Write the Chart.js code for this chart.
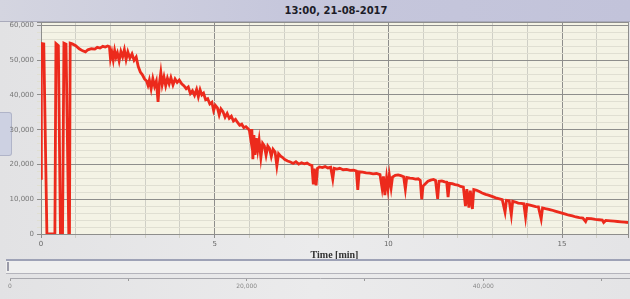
<!DOCTYPE html>
<html>
<head>
<meta charset="utf-8">
<script src="https://cdn.jsdelivr.net/npm/chart.js@4.4.1/dist/chart.umd.min.js"></script>
<style>
  html, body { margin: 0; padding: 0; }
  body { width: 630px; height: 299px; position: relative; overflow: hidden;
         background: linear-gradient(to right, #e2e2e4, #ebebec 50%, #e4e4e6); }
  #header { position: absolute; left: 0; top: 0; width: 630px; height: 21px;
            background: linear-gradient(to right, #d4d5e0, #c6c7dc 45%, #c2c3da);
            border-bottom: 1px solid #a9aabb; }
  #title { position: absolute; left: 236px; width: 200px; top: 5px; text-align: center;
           font: bold 10px "DejaVu Sans", sans-serif; color: #1c1c28; }
  #main { position: absolute; left: 0; top: 0; }
  #band { position: absolute; left: 6px; top: 259px; width: 624px; height: 12px;
          border-top: 2px solid #9ea2b6; border-bottom: 1px solid #b4b4bc; background: #efefef; }
  #handle { position: absolute; left: 7px; top: 262px; width: 2px; height: 9px; background: #9a9aa8; }
  #nav { position: absolute; left: 0; top: 266px; }
  #tab { position: absolute; left: 0; top: 112px; width: 11px; height: 42px;
         background: #cdd1e2; border-radius: 0 3px 3px 0; border: 1px solid #b0b4c8; border-left: none; }
</style>
</head>
<body>
<div id="header"><div id="title">13:00, 21-08-2017</div></div>
<div id="tab"></div>
<canvas id="main" width="630" height="264"></canvas>
<div id="band"></div>
<div id="handle"></div>
<canvas id="nav" width="630" height="33"></canvas>
<script>
// Time [min] and signal values
const timeMin = [
  0.00, 0.01, 0.08, 0.17, 0.40, 0.43, 0.50, 0.56, 0.62, 0.66,
  0.72, 0.80, 0.82, 0.84, 0.90, 1.00, 1.10, 1.20, 1.28, 1.35,
  1.45, 1.55, 1.62, 1.70, 1.78, 1.85, 1.92, 1.97, 2.00, 2.04,
  2.08, 2.12, 2.16, 2.20, 2.25, 2.30, 2.35, 2.40, 2.45, 2.50,
  2.56, 2.62, 2.68, 2.74, 2.80, 2.86, 2.92, 2.98, 3.04, 3.08,
  3.12, 3.17, 3.22, 3.27, 3.32, 3.37, 3.41, 3.45, 3.49, 3.54,
  3.59, 3.64, 3.69, 3.74, 3.80, 3.86, 3.92, 3.98, 4.05, 4.12,
  4.18, 4.24, 4.30, 4.36, 4.42, 4.48, 4.53, 4.58, 4.63, 4.68,
  4.74, 4.80, 4.86, 4.92, 4.97, 5.02, 5.08, 5.13, 5.18, 5.24,
  5.30, 5.36, 5.42, 5.48, 5.54, 5.60, 5.66, 5.72, 5.78, 5.84,
  5.90, 5.96, 6.00, 6.04, 6.07, 6.10, 6.13, 6.16, 6.20, 6.24,
  6.28, 6.33, 6.38, 6.43, 6.48, 6.53, 6.58, 6.63, 6.68, 6.74,
  6.79, 6.84, 6.90, 6.96, 7.02, 7.10, 7.18, 7.26, 7.34, 7.42,
  7.50, 7.58, 7.66, 7.74, 7.80, 7.84, 7.87, 7.92, 7.96, 8.02,
  8.10, 8.18, 8.26, 8.34, 8.40, 8.44, 8.52, 8.60, 8.70, 8.80,
  8.90, 9.00, 9.08, 9.12, 9.16, 9.26, 9.36, 9.46, 9.56, 9.66,
  9.76, 9.82, 9.86, 9.90, 9.95, 9.99, 10.03, 10.08, 10.12, 10.20,
  10.28, 10.36, 10.44, 10.49, 10.53, 10.62, 10.70, 10.78, 10.86, 10.92,
  10.96, 11.00, 11.06, 11.14, 11.22, 11.30, 11.36, 11.42, 11.46, 11.54,
  11.62, 11.68, 11.72, 11.76, 11.84, 11.92, 12.00, 12.08, 12.16, 12.22,
  12.26, 12.32, 12.36, 12.42, 12.46, 12.54, 12.62, 12.70, 12.80, 12.88,
  12.96, 13.04, 13.12, 13.20, 13.28, 13.36, 13.40, 13.48, 13.54, 13.58,
  13.66, 13.74, 13.82, 13.90, 13.95, 13.99, 14.08, 14.16, 14.24, 14.32,
  14.40, 14.44, 14.52, 14.62, 14.70, 14.80, 14.90, 15.00, 15.10, 15.20,
  15.30, 15.40, 15.50, 15.60, 15.68, 15.72, 15.84, 15.96, 16.06, 16.16,
  16.20, 16.26, 16.40, 16.50, 16.60, 16.70, 16.80, 16.90
];
const signal = [
  16000, 54800, 54700, 0, 0, 54800, 54200, 0, 0, 54900,
  54600, 0, 0, 54900, 54700, 54200, 53300, 52700, 52400, 53000,
  53300, 53200, 53700, 53500, 54000, 53800, 54100, 53900, 50500, 52300,
  50100, 52800, 50900, 52100, 49800, 52500, 51000, 53000, 50200, 52400,
  50600, 51800, 50000, 50900, 48200, 46600, 45800, 44600, 44000, 42800,
  44300, 41800, 44700, 42500, 44000, 38000, 43500, 46500, 43000, 45200,
  42700, 44800, 43200, 45000, 42900, 44600, 43600, 44300, 43200, 42600,
  41800, 42300, 40400, 41200, 39900, 41600, 39500, 41500, 40000, 40500,
  38600, 38900, 37400, 37900, 35500, 37000, 36300, 34300, 36000, 35200,
  33600, 34700, 33300, 33900, 32500, 33000, 32100, 31300, 31600, 30600,
  30900, 30300, 29800, 27200, 30200, 21500, 28500, 22800, 27600, 24200,
  27000, 22000, 26100, 25400, 22700, 25300, 24600, 22300, 24400, 23600,
  19600, 23100, 22400, 22000, 21400, 21000, 20700, 20300, 20800, 20100,
  20500, 20200, 20400, 19900, 19700, 14300, 18800, 14000, 18900, 19300,
  19100, 19400, 19000, 19200, 15800, 18900, 18700, 18900, 18500, 18600,
  18300, 18400, 18100, 12700, 17900, 17800, 17600, 17500, 17300, 17400,
  17100, 13200, 16600, 11200, 16200, 13000, 16800, 13300, 16400, 16900,
  17000, 16800, 16500, 12900, 16300, 16100, 16000, 15800, 15900, 15400,
  10000, 13800, 14400, 15200, 15500, 15700, 15400, 10100, 15200, 15300,
  15000, 14900, 10600, 14600, 14500, 14200, 14100, 13700, 13500, 8000,
  12900, 7600, 12500, 7200, 12800, 12600, 12200, 11800, 11400, 11200,
  10900, 10600, 10300, 10100, 9900, 6300, 9700, 9600, 5500, 9400,
  9200, 8900, 8800, 8700, 4900, 8500, 8300, 8100, 7900, 7800,
  4300, 7500, 7300, 7100, 6900, 6600, 6300, 6000, 5700, 5400,
  5200, 4900, 4700, 4600, 3600, 4500, 4400, 4200, 4100, 4000,
  3300, 3900, 3800, 3700, 3600, 3500, 3400, 3300
];

// labelled ticks
const xLabels = [0, 5, 10, 15];
const yLabels = [0, 10000, 20000, 30000, 40000, 50000, 60000];
const navLabels = [0, 20000, 40000];

const X_MAX = 16.9, Y_MAX = 61000, NAV_MAX = 52400;
const fmt = v => v.toLocaleString('en-US');

// explicit tick lists (minor grid steps) so Chart.js doesn't respace them
const stepTicks = (step, max) => {
  const out = [];
  for (let v = 0; v <= max + 1e-9; v += step) out.push({ value: Math.round(v * 1000) / 1000 });
  if (out[out.length - 1].value !== max) out.push({ value: max });
  return out;
};

const plotBg = {
  id: 'plotBg',
  beforeDraw(chart) {
    const a = chart.chartArea, c = chart.ctx;
    c.save();
    c.fillStyle = '#f4f3e5';
    c.fillRect(a.left, a.top, a.width, a.height);
    c.restore();
  }
};

new Chart(document.getElementById('main'), {
  type: 'line',
  data: {
    datasets: [{
      data: timeMin.map((t, i) => ({ x: t, y: signal[i] })),
      borderColor: '#ec2a1c',
      borderWidth: 2.8,
      pointRadius: 0,
      tension: 0
    }]
  },
  options: {
    responsive: false,
    animation: false,
    plugins: { legend: { display: false }, tooltip: { enabled: false } },
    layout: { padding: { left: 1, right: 2, top: 22, bottom: 0 } },
    scales: {
      x: {
        type: 'linear', min: 0, max: X_MAX,
        afterBuildTicks: s => { s.ticks = stepTicks(1, X_MAX); },
        afterFit: s => { s.height = 30; },
        ticks: {
          autoSkip: false, maxRotation: 0, padding: 2,
          font: { family: 'DejaVu Sans', size: 7 }, color: '#666',
          callback: v => xLabels.includes(v) ? String(v) : ''
        },
        grid: {
          tickLength: 4,
          color: c => (c.tick && (xLabels.includes(c.tick.value) || c.tick.value === X_MAX)) ? '#8e8e8c' : '#cfcfc6'
        },
        border: { color: '#8e8e8c' },
        title: {
          display: true, text: 'Time [min]', padding: { top: 0, bottom: 3 },
          font: { family: 'Liberation Serif', size: 10, weight: 'bold' }, color: '#333'
        }
      },
      y: {
        min: 0, max: Y_MAX,
        afterBuildTicks: s => { s.ticks = stepTicks(2000, Y_MAX); },
        afterFit: s => { s.width = 40; },
        ticks: {
          autoSkip: false, padding: 3,
          font: { family: 'DejaVu Sans', size: 7 }, color: '#777',
          callback: v => yLabels.includes(v) ? fmt(v) : ''
        },
        grid: {
          tickLength: 4,
          color: c => (c.tick && (yLabels.includes(c.tick.value) || c.tick.value === Y_MAX)) ? '#8e8e8c' : '#e0dfd2'
        },
        border: { color: '#8e8e8c' }
      }
    }
  },
  plugins: [plotBg]
});

// navigator axis below the plot
new Chart(document.getElementById('nav'), {
  type: 'line',
  data: { datasets: [{ data: [] }] },
  options: {
    responsive: false,
    animation: false,
    plugins: { legend: { display: false }, tooltip: { enabled: false } },
    layout: { padding: { left: 10, right: 0, top: 0, bottom: 0 } },
    scales: {
      x: {
        type: 'linear', min: 0, max: NAV_MAX,
        afterBuildTicks: s => { s.ticks = stepTicks(10000, NAV_MAX).filter(t => t.value !== NAV_MAX); },
        afterFit: s => { s.height = 21; },
        ticks: {
          autoSkip: false, maxRotation: 0, padding: 2,
          font: { family: 'DejaVu Sans', size: 6 }, color: '#888',
          callback: v => navLabels.includes(v) ? fmt(v) : ''
        },
        grid: { drawOnChartArea: false, tickLength: 3, color: '#999' },
        border: { color: '#a8a8ae' }
      },
      y: { display: false, min: 0, max: 1 }
    }
  }
});
</script>
</body>
</html>
